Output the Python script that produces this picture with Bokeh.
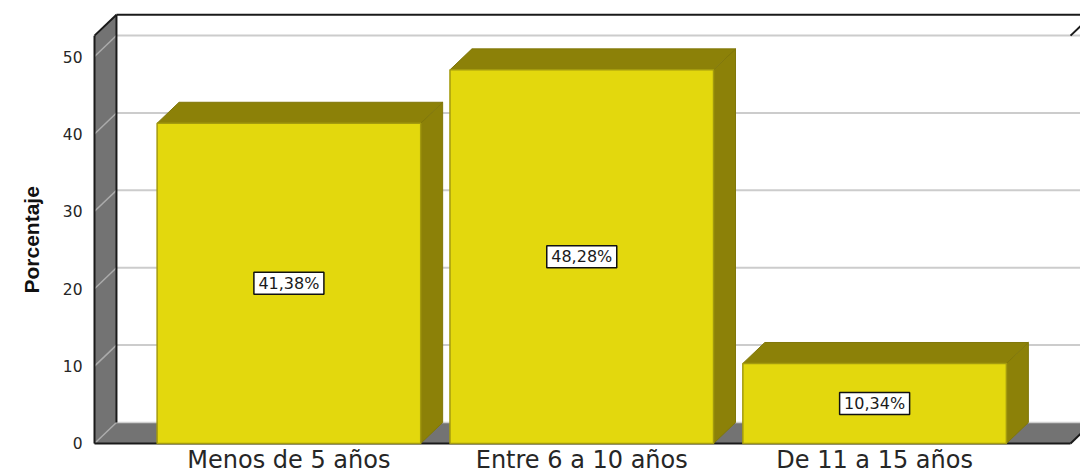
from bokeh.plotting import figure
from bokeh.models import Range1d, FixedTicker, Title
from bokeh.core.properties import value
from bokeh.embed import file_html
from bokeh.resources import INLINE

categories = ["Menos de 5 años", "Entre 6 a 10 años", "De 11 a 15 años"]
percents = [41.38, 48.28, 10.34]
labels = ["41,38%", "48,28%", "10,34%"]
y_ticks = [0, 10, 20, 30, 40, 50]

positions = list(range(len(categories)))
BAR_W = 0.90
DX, DY = 0.075, 2.71
X0, X1 = -0.6638, 2.703
WALL_TOP = 52.7
FLOOR_END = 2.669

YEL, OLIVE, GREY = "#E3D80D", "#8C8108", "#737373"

p = figure(width=1080, height=476, output_backend="svg", toolbar_location=None,
           x_range=Range1d(X0 - 2 / 293, X1), y_range=Range1d(-0.26, 57.24),
           min_border_left=92, min_border_right=0, min_border_top=0, min_border_bottom=31,
           outline_line_color=None, background_fill_color="white", border_fill_color="white")
p.grid.visible = False

# walls
p.patch([X0, X0 + DX, X0 + DX, X0], [WALL_TOP, WALL_TOP + DY, DY, 0], fill_color=GREY, line_color=None)
p.patch([X0, X0 + DX, FLOOR_END + DX, FLOOR_END], [0, DY, DY, 0], fill_color=GREY, line_color=None)

# gridlines
for t in y_ticks[1:]:
    p.line([X0 + DX, FLOOR_END + DX], [t + DY, t + DY], line_color="#CCCCCC", line_width=2)
    p.line([X0, X0 + DX], [t, t + DY], line_color="#ABABAB", line_width=1.5)
p.line([X0 + DX, FLOOR_END + DX], [DY, DY], line_color="#D0D0D0", line_width=1.5)
p.line([X0, X0 + DX], [0, DY], line_color="#ABABAB", line_width=1.5)

# frame lines
frame = [([X0, X0], [0, WALL_TOP]), ([X0 + DX, X0 + DX], [DY, WALL_TOP + DY]),
         ([X0, X0 + DX], [WALL_TOP, WALL_TOP + DY]),
         ([X0 + DX, FLOOR_END + DX], [WALL_TOP + DY, WALL_TOP + DY]),
         ([X0, FLOOR_END], [0, 0]), ([FLOOR_END, FLOOR_END + DX], [0, DY]),
         ([FLOOR_END, FLOOR_END + DX], [WALL_TOP, WALL_TOP + DY])]
for xs, ys in frame:
    p.line(xs, ys, line_color="#1A1A1A", line_width=2)

# bars
for c, v in zip(positions, percents):
    l, r = c - BAR_W / 2, c + BAR_W / 2
    p.patch([r, r + DX, r + DX, r], [0, DY, v + DY, v], fill_color=OLIVE, line_color="#80770A", line_width=1)
    p.patch([l, l + DX, r + DX, r], [v, v + DY, v + DY, v], fill_color=OLIVE, line_color="#80770A", line_width=1)
    p.patch([l, r, r, l], [0, 0, v, v], fill_color=YEL, line_color="#A39A0E", line_width=1.5)

# value labels
half = [v / 2 for v in percents]
p.rect(positions, half, width=70, height=22, width_units="screen", height_units="screen",
       fill_color="white", line_color="#111111", line_width=1.5)
p.text(positions, half, text=labels, text_align="center", text_baseline="middle",
       text_font=value("DejaVu Sans"), text_font_size="16px", text_color="#1A1A1A")

xa = p.xaxis[0]
xa.ticker = FixedTicker(ticks=positions)
xa.major_label_overrides = dict(zip(positions, categories))
xa.major_label_text_font = "DejaVu Sans"
xa.major_label_text_font_size = "24px"
xa.major_label_text_color = "#262626"
xa.major_label_standoff = 0
xa.axis_line_color = None
xa.major_tick_line_color = None
xa.minor_tick_line_color = None
xa.major_tick_out = 0
xa.major_tick_in = 0

ya = p.yaxis[0]
ya.ticker = FixedTicker(ticks=y_ticks)
ya.major_label_text_font = "DejaVu Sans"
ya.major_label_text_font_size = "15.5px"
ya.major_label_text_color = "#262626"
ya.major_label_standoff = 10
ya.axis_line_color = None
ya.major_tick_line_color = None
ya.minor_tick_line_color = None
ya.major_tick_out = 0
ya.major_tick_in = 0

p.add_layout(Title(text="Porcentaje", align="left", offset=152, standoff=34,
                   text_font="Liberation Sans", text_font_style="bold", text_font_size="21px",
                   text_color="#111111"), "left")

open("out.html", "w").write(file_html(p, INLINE))
